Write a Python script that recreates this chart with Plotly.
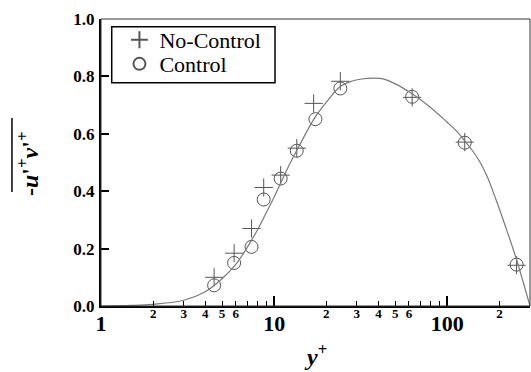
import math
import plotly.graph_objects as go

# ---- data ----
curve_x = [1, 1.5, 2, 3, 4, 5, 6, 7, 8, 9, 10, 12, 14, 17, 20, 24, 28, 32, 37, 42,
           50, 62, 79, 99, 112, 125, 140, 153, 170, 191, 220, 249, 275, 300]
curve_y = [0.0, 0.002, 0.006, 0.02, 0.05, 0.095, 0.145, 0.205, 0.265, 0.325, 0.38,
           0.482, 0.56, 0.652, 0.71, 0.764, 0.783, 0.791, 0.794, 0.792, 0.774, 0.741,
           0.694, 0.642, 0.612, 0.578, 0.54, 0.505, 0.45, 0.37, 0.265, 0.168, 0.08, 0.0]

nocontrol_x = [4.5, 5.87, 7.4, 8.7, 10.9, 13.5, 16.9, 24.1, 62.6, 126, 251]
nocontrol_y = [0.100, 0.184, 0.270, 0.413, 0.456, 0.550, 0.706, 0.783, 0.727, 0.571, 0.142]

control_x = [4.5, 5.87, 7.4, 8.7, 10.9, 13.5, 17.3, 24.1, 62.6, 126, 251]
control_y = [0.072, 0.150, 0.206, 0.371, 0.444, 0.541, 0.651, 0.758, 0.729, 0.569, 0.144]

major_vals = [1, 10, 100]
major_text = ["1", "10", "100"]
minor_label_vals = [2, 3, 4, 5, 6, 20, 30, 40, 50, 60, 200, 300]
minor_label_text = ["2", "3", "4", "5", "6", "2", "3", "4", "5", "6", "2", "3"]
y_ticks = [0.0, 0.2, 0.4, 0.6, 0.8, 1.0]
y_text = ["0.0", "0.2", "0.4", "0.6", "0.8", "1.0"]

FONT = "Liberation Serif, Times New Roman, Times, serif"
xr = [0, math.log10(300) + 1e-6]

fig = go.Figure()
fig.add_trace(go.Scatter(x=curve_x, y=curve_y, mode="lines", xaxis="x2",
                         line=dict(color="#7a7a7a", width=1.2, shape="spline", smoothing=1),
                         showlegend=False, hoverinfo="skip"))
fig.add_trace(go.Scatter(x=nocontrol_x, y=nocontrol_y, mode="markers", name="No-Control",
                         legend="legend",
                         marker=dict(symbol="cross-thin-open", size=13, color="#555555",
                                     line=dict(color="#555555", width=1))))
fig.add_trace(go.Scatter(x=control_x, y=control_y, mode="markers", name="Control",
                         legend="legend2",
                         marker=dict(symbol="circle-open", size=13, color="#555555",
                                     line=dict(color="#555555", width=1))))

leg_common = dict(xanchor="left", yanchor="middle", bgcolor="rgba(0,0,0,0)",
                  borderwidth=0, font=dict(family=FONT, size=22, color="black"),
                  itemsizing="constant")

fig.update_layout(
    width=531, height=372,
    margin=dict(l=101, r=1, t=19, b=66),
    paper_bgcolor="white", plot_bgcolor="white",
    font=dict(family=FONT, color="black"),
    xaxis=dict(type="log", range=xr, tickvals=major_vals,
               ticktext=["<b>%s</b>" % t for t in major_text],
               ticks="inside", ticklen=10, tickwidth=1.5, tickcolor="black",
               tickfont=dict(family=FONT, size=22, color="black"),
               ticklabelstandoff=-3,
               showline=True, linewidth=2, linecolor="black", showgrid=False,
               zeroline=False,
               minor=dict(ticks="inside", ticklen=5, tickwidth=1, tickcolor="black",
                          dtick="D1", showgrid=False)),
    xaxis2=dict(type="log", range=xr, overlaying="x", anchor="y", side="bottom",
                tickvals=minor_label_vals,
                ticktext=["<b>%s</b>" % t for t in minor_label_text], ticks="",
                tickfont=dict(family=FONT, size=13, color="black"),
                ticklabelstandoff=-2,
                showline=False, showgrid=False, zeroline=False),
    yaxis=dict(range=[0, 1], tickvals=y_ticks, ticktext=["<b>%s</b>" % t for t in y_text],
               ticks="inside", ticklen=8, tickwidth=1.5, tickcolor="black",
               tickfont=dict(family=FONT, size=17, color="black"),
               ticklabelstandoff=1,
               showline=True, linewidth=2, linecolor="black", showgrid=False,
               zeroline=False),
    legend=dict(x=0.043, y=0.927, **leg_common),
    legend2=dict(x=0.043, y=0.843, **leg_common),
    shapes=[
        dict(type="rect", xref="paper", yref="paper", x0=0, y0=0, x1=1, y1=1,
             line=dict(color="#333333", width=1)),
        dict(type="rect", xref="paper", yref="paper", x0=0.025, x1=0.4056,
             y0=0.778, y1=0.973, line=dict(color="black", width=1.5),
             fillcolor="rgba(0,0,0,0)", layer="above"),
        dict(type="line", xref="paper", yref="paper", x0=-0.2075, x1=-0.2075,
             y0=0.397, y1=0.655, line=dict(color="black", width=1.5)),
    ],
    annotations=[
        dict(text="<b>-<i>u</i>'<sup>+</sup><i>v</i>'<sup>+</sup></b>", xref="paper", yref="paper",
             x=-0.17, y=0.495, xanchor="center", yanchor="middle", textangle=-90,
             showarrow=False, font=dict(family=FONT, size=24, color="black")),
        dict(text="<b><i>y</i><sup>+</sup></b>", xref="paper", yref="paper",
             x=0.5, y=-0.11, xanchor="center", yanchor="top",
             showarrow=False, font=dict(family=FONT, size=24, color="black")),
    ],
)

fig.write_html("out.html")
